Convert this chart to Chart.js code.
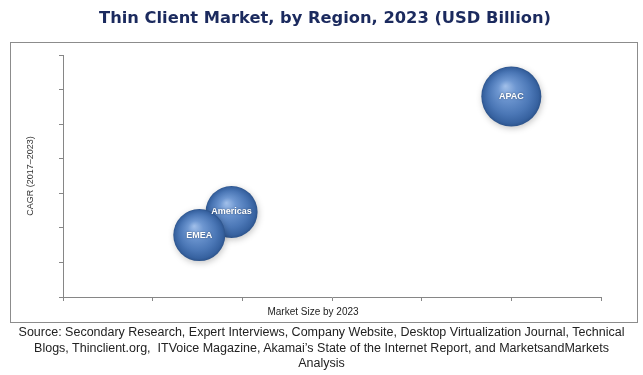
<!DOCTYPE html>
<html>
<head>
<meta charset="utf-8">
<script src="https://cdn.jsdelivr.net/npm/chart.js"></script>
<style>
  html, body { margin: 0; padding: 0; background: #fff; }
  #wrap { position: relative; width: 643px; height: 375px; }
  #title {
    position: absolute; left: 0; top: 8px; width: 650px;
    text-align: center; color: #1b2a5e;
    font: bold 16.3px "DejaVu Sans", sans-serif; line-height: 20px;
  }
  #source {
    position: absolute; left: 0; top: 325px; width: 643px;
    text-align: center; color: #222;
    font: 12.5px "Liberation Sans", Arial, sans-serif; line-height: 15.5px;
  }
</style>
</head>
<body>
<div id="wrap">
  <canvas id="chart_bubble" width="643" height="375"></canvas>
  <div id="title">Thin Client Market, by Region, 2023 (USD Billion)</div>
  <div id="source">Source: Secondary Research, Expert Interviews, Company Website, Desktop Virtualization Journal, Technical<br>Blogs, Thinclient.org,&nbsp; ITVoice Magazine, Akamai’s State of the Internet Report, and MarketsandMarkets<br>Analysis</div>
</div>
<script>
// data (axes carry no tick labels, units are relative)
const regions = ['APAC', 'Americas', 'EMEA'];
const marketSize = [5.0, 1.88, 1.52];
const cagr = [5.8, 2.46, 1.79];
const bubbleSize = [30, 26, 26];

const axisGrey = '#868686';

// outer frame round the plot, and the x title (sits left of centre in the original)
const framePlugin = {
  id: 'frame',
  beforeDraw(chart) {
    const ctx = chart.ctx;
    ctx.save();
    ctx.strokeStyle = '#8c8c8c';
    ctx.lineWidth = 1;
    ctx.strokeRect(10.5, 42.5, 627, 280);
    ctx.restore();
  },
  afterDraw(chart) {
    const ctx = chart.ctx;
    ctx.save();
    ctx.font = '10px "Liberation Sans", Arial, sans-serif';
    ctx.fillStyle = '#222';
    ctx.textAlign = 'center';
    ctx.textBaseline = 'middle';
    ctx.fillText('Market Size by 2023', 313, 312);
    ctx.restore();
  }
};

// soft shadow under the spheres, and the white names on top
const bubbleDecor = {
  id: 'bubbleDecor',
  beforeDatasetsDraw(chart) {
    const ctx = chart.ctx;
    ctx.save();
    ctx.shadowColor = 'rgba(0,0,0,0.22)';
    ctx.shadowBlur = 6;
    ctx.shadowOffsetX = 1;
    ctx.shadowOffsetY = 2;
  },
  afterDatasetsDraw(chart) {
    const ctx = chart.ctx;
    ctx.restore();
    const meta = chart.getDatasetMeta(0);
    ctx.save();
    ctx.font = 'bold 9px "Liberation Sans", Arial, sans-serif';
    ctx.textAlign = 'center';
    ctx.textBaseline = 'middle';
    ctx.fillStyle = '#ffffff';
    ctx.shadowColor = 'rgba(0,0,0,0.45)';
    ctx.shadowBlur = 2;
    meta.data.forEach((el, i) => {
      ctx.fillText(regions[i], el.x, el.y);
    });
    ctx.restore();
  }
};

function sphereFill(context) {
  const chart = context.chart;
  const raw = context.raw;
  if (!raw || !chart.scales.x || !chart.scales.y) return '#4a78b5';
  const x = chart.scales.x.getPixelForValue(raw.x);
  const y = chart.scales.y.getPixelForValue(raw.y);
  const r = raw.r;
  if (!isFinite(x) || !isFinite(y)) return '#4a78b5';
  const g = chart.ctx.createRadialGradient(x - 0.2 * r, y - 0.35 * r, 0, x, y, r);
  g.addColorStop(0, '#a2c0ea');
  g.addColorStop(0.3, '#6e97d1');
  g.addColorStop(0.7, '#4b77b6');
  g.addColorStop(0.92, '#3762a0');
  g.addColorStop(1, '#2c538b');
  return g;
}

new Chart('chart_bubble', {
  type: 'bubble',
  data: {
    datasets: [{
      label: 'Regions',
      data: regions.map((name, i) => ({ x: marketSize[i], y: cagr[i], r: bubbleSize[i] })),
      backgroundColor: sphereFill,
      borderWidth: 0,
      hoverRadius: 0
    }]
  },
  options: {
    responsive: false,
    animation: false,
    events: [],
    layout: { padding: { left: 10, right: 42, top: 55, bottom: 74 } },
    plugins: {
      legend: { display: false },
      tooltip: { enabled: false },
      title: { display: false }
    },
    scales: {
      x: {
        type: 'linear',
        min: 0,
        max: 6,
        ticks: { display: false, stepSize: 1 },
        grid: { drawOnChartArea: false, drawTicks: true, tickLength: 4, color: axisGrey },
        border: { color: axisGrey },
        title: { display: false }
      },
      y: {
        type: 'linear',
        min: 0,
        max: 7,
        ticks: { display: false, stepSize: 1 },
        grid: { drawOnChartArea: false, drawTicks: true, tickLength: 4, color: axisGrey },
        border: { color: axisGrey },
        title: {
          display: true,
          text: 'CAGR (2017–2023)',
          color: '#333',
          font: { family: 'Liberation Sans', size: 9 },
          padding: { top: 15.6, bottom: 22.6 }
        }
      }
    }
  },
  plugins: [framePlugin, bubbleDecor]
});
</script>
</body>
</html>
